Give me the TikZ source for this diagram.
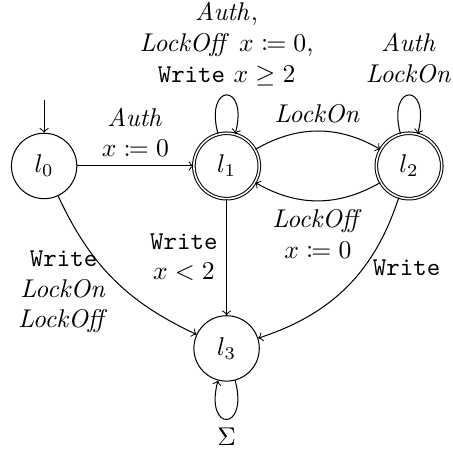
\documentclass[tikz,border=0pt]{standalone}
\usepackage{mathtools}
\usepackage{tkz-graph}
\usetikzlibrary{calc}
\tikzset{
  >={to}
}

\begin{document}
\begin{tikzpicture}
    \useasboundingbox (-17.2pt,-111.5pt) rectangle (159.4pt,64.7pt);
    \GraphInit[vstyle=Normal]
    \SetGraphUnit{2.5}
    \SetVertexMath
    \SetUpEdge[lw=0.4pt,color=black,labelcolor=white,labeltext=black]
    \tikzset{
      VertexStyle/.append style={minimum size=25.5pt,inner sep=0pt,line width=.4pt,fill=none},
      EdgeStyle/.style={draw,line width=.4pt,->},
      LabelStyle/.style={align=center,inner sep=.333em,fill=none}
    }
    \Vertex[x=0,y=0,L=l_0]{l0}
    \EA[L=l_1,style=double](l0){l1}
    \EA[L=l_2,style=double](l1){l2}
    \SO[L=l_3](l1){l3}
    \coordinate (init) at ($(l0.north)+(0,12.9pt)$);
    \draw[->] (init) -- (l0);
    \Edge[label={$\mathit{Auth}$\\$x \protect\coloneqq 0$},labelstyle={above}](l0)(l1)
    \Edge[label={$\mathit{LockOn}$},labelstyle={above},style={bend left}](l1)(l2)
    \Edge[label={$\mathit{LockOff}$\\$x \protect\coloneqq 0$},labelstyle={below},style={bend left}](l2)(l1)
    \Edge[label={\texttt{Write}\\$x<2$},labelstyle={left}](l1)(l3)
    \Edge[label={\texttt{Write}\\$\mathit{LockOn}$\\$\mathit{LockOff}$},labelstyle={left=3.5pt,pos=.6},style={bend right=20}](l0)(l3)
    \Edge[label={\texttt{Write}},labelstyle={right,pos=.37},style={bend left=27}](l2)(l3)
    \draw[->] (l1) to[loop above] node[LabelStyle,above]{$\mathit{Auth}$,\\$\mathit{LockOff}\ x \coloneqq 0$,\\\texttt{Write} $x \geq 2$} (l1);
    \draw[->] (l2) to[loop above] node[LabelStyle,above=1.5pt]{$\mathit{Auth}$\\$\mathit{LockOn}$} (l2);
    \draw[->] (l3) to[loop below] node[LabelStyle,below]{$\Sigma$} (l3);
\end{tikzpicture}
\end{document}
